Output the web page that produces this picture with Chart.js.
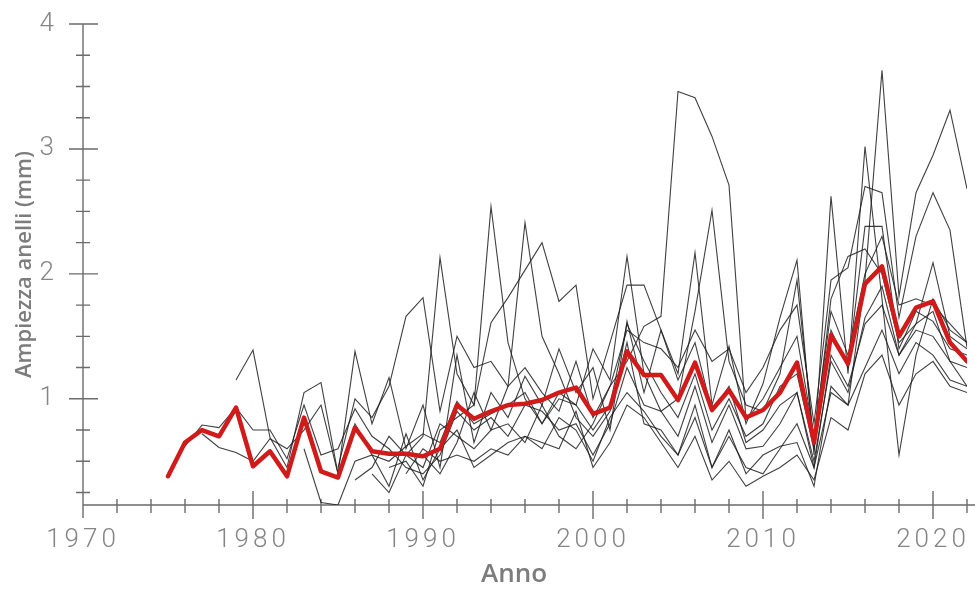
<!DOCTYPE html>
<html>
<head>
<meta charset="utf-8">
<script src="https://cdn.jsdelivr.net/npm/chart.js@4.4.1/dist/chart.umd.min.js"></script>
<style>
  html, body { margin: 0; padding: 0; background: #fff; }
  canvas { display: block; }
</style>
</head>
<body>
<canvas id="chart" width="975" height="592"></canvas>
<script>
// Anni della serie (1975-2022)
const years = [1975,1976,1977,1978,1979,1980,1981,1982,1983,1984,1985,1986,1987,1988,1989,1990,
  1991,1992,1993,1994,1995,1996,1997,1998,1999,2000,2001,2002,2003,2004,2005,2006,
  2007,2008,2009,2010,2011,2012,2013,2014,2015,2016,2017,2018,2019,2020,2021,2022];

// Curve individuali degli anelli (mm), null prima dell'inizio della serie
const serieA = [null,0.62,0.79,0.77,0.93,0.75,0.75,0.52,0.95,0.55,0.60,0.92,0.70,0.60,0.45,0.40,
  0.55,0.90,0.75,0.85,0.70,0.95,0.90,0.75,0.80,0.55,0.80,1.25,0.95,0.90,0.70,1.10,
  0.65,0.95,0.60,0.62,0.80,1.05,0.45,1.35,1.10,1.60,1.75,1.35,1.60,1.70,1.30,1.10];
const serieB = [null,null,0.72,0.61,0.57,0.50,0.68,0.60,0.75,0.95,0.40,0.80,0.55,0.50,0.62,0.72,
  0.65,0.98,0.80,0.88,0.95,1.05,0.80,1.00,0.95,0.75,0.95,1.60,1.30,1.05,0.85,1.20,
  0.75,1.00,0.70,0.80,1.10,1.20,0.60,1.55,1.25,2.38,2.38,1.40,1.70,1.62,1.40,1.35];
const serieC = [null,null,null,null,1.15,1.39,0.69,0.45,1.05,1.13,0.40,1.38,0.80,1.17,0.60,0.95,
  0.45,1.35,0.65,1.05,0.85,1.18,0.95,1.40,1.05,1.25,0.75,1.62,1.05,1.55,1.20,2.17,
  0.95,1.42,0.80,1.12,1.65,2.11,0.55,2.62,1.20,3.02,1.80,0.55,1.35,1.80,1.55,1.45];
const serieD = [null,null,null,null,null,null,null,null,0.60,0.17,0.15,0.50,0.55,0.30,0.72,0.35,
  0.60,0.75,0.45,0.55,0.65,0.70,0.60,0.85,0.75,0.50,0.85,1.05,0.90,0.70,0.55,0.85,
  0.45,0.75,0.40,0.55,0.62,0.65,0.30,1.10,0.95,1.95,3.63,1.82,2.65,2.95,3.31,2.68];
const serieE = [null,null,null,null,null,null,null,null,null,null,0.45,1.00,0.85,1.10,1.66,1.81,
  0.90,1.50,1.25,1.30,1.10,1.25,1.05,0.90,1.30,0.85,1.10,1.55,1.45,1.40,1.25,1.55,
  1.30,1.40,1.05,1.25,1.55,1.75,0.80,1.95,2.05,2.70,2.65,1.65,2.30,2.65,2.35,1.41];
const serieF = [null,null,null,null,null,null,null,null,null,null,null,null,0.40,0.25,0.55,0.70,
  2.13,1.20,0.95,2.54,1.45,1.00,0.80,1.05,0.95,1.40,1.15,2.14,1.20,0.90,1.00,1.70,
  2.51,1.30,0.95,0.90,1.20,1.95,0.65,1.80,2.14,2.20,2.00,1.45,1.60,2.09,1.50,1.40];
const serieG = [null,null,null,null,null,null,null,null,null,null,null,null,null,0.45,0.50,0.30,
  0.75,0.85,0.95,1.61,1.81,2.03,2.25,1.78,1.91,1.00,1.45,1.91,1.91,1.55,1.15,1.45,
  0.90,1.10,0.65,0.75,0.95,1.05,0.50,1.30,1.05,1.65,1.90,1.35,1.55,1.50,1.30,1.25];
const serieH = [null,null,null,null,null,null,null,null,null,null,null,null,null,null,null,0.55,
  0.40,0.65,1.05,0.75,1.10,2.41,1.50,1.20,0.85,0.70,0.90,1.45,0.80,0.75,0.55,0.95,
  0.45,0.70,0.45,0.40,0.60,0.80,0.45,1.05,0.95,1.25,1.55,1.20,1.45,1.35,1.15,1.10];
const serieI = [null,null,null,null,null,null,null,null,null,null,null,0.35,0.45,0.70,0.55,0.45,
  0.80,0.70,0.60,0.75,0.80,0.65,0.95,0.70,0.60,0.80,1.10,1.30,1.58,1.66,3.46,3.41,
  3.10,2.71,0.83,1.00,1.25,1.50,0.70,1.70,1.35,2.00,2.30,1.75,1.80,1.75,1.60,1.45];
const serieJ = [null,null,null,null,null,null,null,null,null,null,null,null,null,null,0.40,0.60,
  0.50,0.55,0.50,0.60,0.55,0.70,0.65,0.60,0.90,0.45,0.65,0.95,0.85,0.65,0.45,0.70,
  0.35,0.50,0.30,0.38,0.45,0.55,0.35,0.85,0.75,1.20,1.35,0.95,1.20,1.30,1.10,1.05];

// Cronologia media (mm)
const media = [0.38,0.65,0.75,0.70,0.93,0.46,0.58,0.38,0.85,0.42,0.37,0.77,0.58,0.56,0.56,0.54,
  0.60,0.95,0.84,0.90,0.95,0.96,0.99,1.05,1.09,0.88,0.93,1.38,1.19,1.19,0.99,1.29,
  0.91,1.07,0.85,0.91,1.05,1.29,0.65,1.51,1.28,1.92,2.06,1.50,1.73,1.78,1.45,1.30];

// Etichette degli assi
const xTickLabels = [1970,1980,1990,2000,2010,2020];
const yTickLabels = [1,2,3,4];

const serieIndividuali = [serieA,serieB,serieC,serieD,serieE,serieF,serieG,serieH,serieI,serieJ];

function toPoints(values) {
  return years.map((y, i) => ({ x: y, y: values[i] }));
}

const datasets = serieIndividuali.map((vals, k) => ({
  label: 'Serie ' + (k + 1),
  data: toPoints(vals),
  borderColor: 'rgba(30,30,30,0.85)',
  borderWidth: 1.1,
  pointRadius: 0,
  tension: 0,
  spanGaps: false,
  order: 2
}));
datasets.push({
  label: 'Media',
  data: toPoints(media),
  borderColor: '#d11a1a',
  borderWidth: 4.5,
  pointRadius: 0,
  tension: 0,
  borderJoinStyle: 'round',
  borderCapStyle: 'round',
  order: 1
});

const AXIS_COLOR = '#6b6b6b';

// Spaziatura delle cifre sulle etichette delle tacche
const spacingPlugin = {
  id: 'tickSpacing',
  beforeDraw(chart) { chart.ctx.letterSpacing = '4px'; },
  afterDraw(chart) { chart.ctx.letterSpacing = '0px'; }
};

// Assi con tacche principali e secondarie che attraversano la linea
const axesPlugin = {
  id: 'crossAxes',
  beforeDatasetsDraw(chart) {
    const ctx = chart.ctx;
    const xs = chart.scales.x, ys = chart.scales.y;
    const x0 = xs.getPixelForValue(xs.min);
    const y0 = ys.getPixelForValue(ys.min);
    const yTop = ys.getPixelForValue(ys.max);
    ctx.save();
    ctx.letterSpacing = '0px';
    ctx.strokeStyle = AXIS_COLOR;
    ctx.lineWidth = 1.4;
    ctx.beginPath();
    // asse y
    ctx.moveTo(x0, yTop);
    ctx.lineTo(x0, y0 + 13);
    // asse x
    ctx.moveTo(x0, y0);
    ctx.lineTo(chart.width, y0);
    // tacche asse x: ogni 2 anni, principali ogni 10
    for (let yr = xs.min + 2; yr <= xs.max; yr += 2) {
      const px = xs.getPixelForValue(yr);
      if (yr % 10 === 0) { ctx.moveTo(px, y0 - 14); ctx.lineTo(px, y0 + 14); }
      else { ctx.moveTo(px, y0 - 6); ctx.lineTo(px, y0 + 8); }
    }
    // tacche asse y: ogni 0.25, principali sugli interi
    for (let q = 1; q <= 16; q++) {
      const v = q / 4;
      if (v < ys.min) continue;
      const py = ys.getPixelForValue(v);
      if (q % 4 === 0) { ctx.moveTo(x0 - 14, py); ctx.lineTo(x0 + 15, py); }
      else { ctx.moveTo(x0 - 7, py); ctx.lineTo(x0 + 7, py); }
    }
    ctx.stroke();

    // titoli degli assi
    ctx.fillStyle = '#7c7c7c';
    ctx.textAlign = 'center';
    ctx.textBaseline = 'middle';
    ctx.font = '600 26px "Open Sans", "Noto Sans", sans-serif';
    ctx.fillText('Anno', 514, 575);
    ctx.translate(25, (ys.top + ys.bottom) / 2);
    ctx.rotate(-Math.PI / 2);
    ctx.font = '600 22px "Open Sans", "Noto Sans", sans-serif';
    ctx.fillText('Ampiezza anelli (mm)', 0, 0);
    ctx.restore();
  }
};

const tickFont = { family: 'Roboto, "Liberation Sans", sans-serif', size: 26, weight: 300 };

new Chart(document.getElementById('chart'), {
  type: 'line',
  data: { datasets },
  options: {
    responsive: false,
    animation: false,
    devicePixelRatio: 1,
    layout: { padding: { top: 24, right: 8, left: 0, bottom: 0 } },
    plugins: { legend: { display: false }, tooltip: { enabled: false } },
    scales: {
      x: {
        type: 'linear',
        min: 1970,
        max: 2022,
        grid: { display: false },
        border: { display: false },
        afterBuildTicks(scale) { scale.ticks = xTickLabels.map(v => ({ value: v })); },
        afterFit(scale) { scale.height = 87; scale.paddingLeft = 0; scale.paddingRight = 0; },
        ticks: {
          color: '#858585',
          font: tickFont,
          padding: 12,
          maxRotation: 0,
          autoSkip: false,
          callback: v => String(v)
        }
      },
      y: {
        type: 'linear',
        min: 0.15,
        max: 4,
        grid: { display: false },
        border: { display: false },
        afterBuildTicks(scale) { scale.ticks = yTickLabels.map(v => ({ value: v })); },
        afterFit(scale) { scale.width = 83; scale.paddingTop = 0; scale.paddingBottom = 0; },
        ticks: {
          color: '#858585',
          font: tickFont,
          padding: 17,
          autoSkip: false,
          callback: v => String(v)
        }
      }
    }
  },
  plugins: [spacingPlugin, axesPlugin]
});
</script>
</body>
</html>
